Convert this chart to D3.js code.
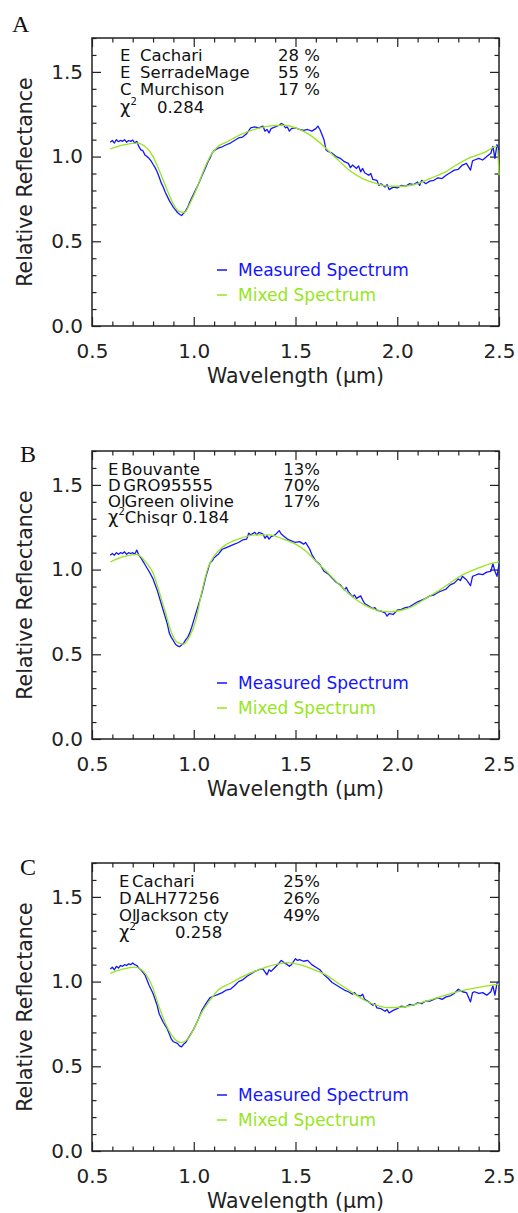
<!DOCTYPE html>
<html>
<head>
<meta charset="utf-8">
<script src="https://cdn.jsdelivr.net/npm/d3@7"></script>
<style>
  body { margin: 0; background: #fff; }
</style>
</head>
<body>
<div id="chart"></div>
<script>
// ---- data: [wavelength um, relative reflectance] ----
const measuredA = [
  [0.59,1.085],[0.60,1.095],[0.61,1.08],[0.62,1.10],[0.63,1.088],[0.64,1.096],[0.65,1.09],[0.66,1.10],
  [0.67,1.085],[0.68,1.095],[0.69,1.09],[0.70,1.098],[0.71,1.08],[0.72,1.09],[0.73,1.06],[0.74,1.04],
  [0.75,1.035],[0.76,1.01],[0.77,1.0],[0.78,0.99],[0.79,0.975],[0.80,0.955],[0.81,0.935],[0.82,0.91],
  [0.83,0.88],[0.84,0.845],[0.85,0.82],[0.86,0.79],[0.87,0.765],[0.88,0.74],[0.89,0.72],[0.90,0.70],
  [0.91,0.685],[0.92,0.67],[0.93,0.66],[0.94,0.652],[0.95,0.665],[0.96,0.68],[0.97,0.70],[0.98,0.73],
  [0.99,0.755],[1.00,0.78],[1.02,0.83],[1.04,0.885],[1.06,0.94],[1.07,0.97],[1.08,0.99],[1.09,1.02],
  [1.10,1.035],[1.12,1.05],[1.14,1.058],[1.16,1.07],[1.18,1.08],[1.20,1.095],[1.22,1.11],[1.24,1.115],
  [1.26,1.135],[1.28,1.17],[1.30,1.175],[1.32,1.17],[1.34,1.18],[1.35,1.15],[1.36,1.16],[1.37,1.14],
  [1.38,1.165],[1.40,1.175],[1.42,1.185],[1.43,1.195],[1.44,1.19],[1.45,1.17],[1.46,1.175],[1.47,1.15],
  [1.48,1.165],[1.50,1.17],[1.52,1.16],[1.54,1.155],[1.56,1.16],[1.58,1.15],[1.60,1.165],[1.61,1.18],
  [1.62,1.16],[1.63,1.13],[1.64,1.10],[1.65,1.04],[1.66,1.03],[1.68,1.02],[1.70,1.0],[1.72,0.99],
  [1.74,0.97],[1.76,0.96],[1.77,0.935],[1.78,0.95],[1.80,0.93],[1.81,0.945],[1.82,0.91],[1.83,0.93],
  [1.84,0.905],[1.86,0.89],[1.87,0.90],[1.88,0.865],[1.90,0.86],[1.91,0.83],[1.92,0.84],[1.94,0.82],
  [1.95,0.835],[1.96,0.805],[1.98,0.82],[2.00,0.815],[2.02,0.83],[2.04,0.825],[2.06,0.84],[2.08,0.835],
  [2.10,0.85],[2.11,0.83],[2.12,0.86],[2.14,0.84],[2.16,0.855],[2.18,0.86],[2.20,0.875],[2.22,0.87],
  [2.24,0.89],[2.26,0.905],[2.28,0.92],[2.30,0.925],[2.32,0.95],[2.34,0.96],[2.36,0.92],[2.37,0.975],
  [2.38,0.98],[2.40,0.99],[2.42,0.98],[2.44,1.0],[2.46,1.02],[2.47,1.06],[2.48,0.99],[2.49,1.07],[2.50,1.04]
];
const mixedA = [
  [0.59,1.045],[0.65,1.068],[0.72,1.08],[0.77,1.05],[0.80,1.0],[0.83,0.92],[0.87,0.80],[0.90,0.72],
  [0.93,0.675],[0.955,0.67],[0.98,0.72],[1.00,0.77],[1.03,0.86],[1.06,0.95],[1.09,1.02],[1.12,1.06],
  [1.16,1.085],[1.23,1.13],[1.31,1.165],[1.39,1.183],[1.44,1.185],[1.51,1.165],[1.57,1.128],[1.64,1.06],
  [1.70,0.99],[1.77,0.915],[1.83,0.87],[1.90,0.84],[1.96,0.825],[2.03,0.825],[2.10,0.84],[2.16,0.87],
  [2.23,0.905],[2.29,0.95],[2.36,0.995],[2.43,1.025],[2.49,1.06],[2.50,0.89]
];
const measuredB = [
  [0.59,1.085],[0.60,1.095],[0.61,1.085],[0.62,1.10],[0.63,1.09],[0.64,1.10],[0.65,1.095],[0.66,1.105],
  [0.67,1.09],[0.68,1.10],[0.69,1.095],[0.70,1.10],[0.71,1.09],[0.72,1.115],[0.73,1.085],[0.74,1.07],
  [0.75,1.05],[0.76,1.03],[0.78,0.99],[0.80,0.945],[0.82,0.88],[0.84,0.80],[0.86,0.72],[0.87,0.68],
  [0.88,0.625],[0.89,0.60],[0.90,0.58],[0.91,0.56],[0.92,0.55],[0.93,0.545],[0.94,0.555],[0.95,0.565],
  [0.96,0.585],[0.97,0.60],[0.98,0.625],[0.99,0.66],[1.00,0.70],[1.01,0.74],[1.02,0.78],[1.04,0.86],
  [1.05,0.91],[1.06,0.96],[1.07,1.0],[1.08,1.04],[1.09,1.05],[1.10,1.07],[1.12,1.09],[1.14,1.12],
  [1.16,1.13],[1.18,1.14],[1.20,1.15],[1.22,1.16],[1.24,1.175],[1.26,1.18],[1.27,1.215],[1.28,1.205],
  [1.30,1.22],[1.31,1.205],[1.32,1.22],[1.34,1.21],[1.35,1.185],[1.36,1.20],[1.37,1.18],[1.38,1.195],
  [1.40,1.205],[1.42,1.23],[1.43,1.21],[1.44,1.20],[1.46,1.18],[1.48,1.17],[1.50,1.16],[1.52,1.165],
  [1.54,1.15],[1.55,1.16],[1.56,1.14],[1.57,1.12],[1.58,1.09],[1.60,1.05],[1.62,1.03],[1.64,0.99],
  [1.66,0.975],[1.68,0.95],[1.70,0.925],[1.72,0.91],[1.74,0.88],[1.75,0.895],[1.76,0.87],[1.78,0.84],
  [1.79,0.85],[1.80,0.83],[1.82,0.845],[1.83,0.82],[1.84,0.80],[1.86,0.785],[1.88,0.77],[1.89,0.775],
  [1.90,0.76],[1.92,0.755],[1.94,0.745],[1.95,0.725],[1.96,0.74],[1.98,0.735],[2.00,0.76],[2.02,0.765],
  [2.04,0.775],[2.06,0.78],[2.08,0.795],[2.10,0.81],[2.12,0.82],[2.14,0.83],[2.16,0.845],[2.18,0.85],
  [2.20,0.865],[2.22,0.875],[2.24,0.885],[2.26,0.91],[2.28,0.92],[2.30,0.945],[2.31,0.935],[2.32,0.96],
  [2.34,0.94],[2.36,0.905],[2.37,0.96],[2.38,0.965],[2.40,0.975],[2.42,0.97],[2.44,0.985],[2.46,0.99],
  [2.47,1.035],[2.48,0.99],[2.49,0.96],[2.50,1.03]
];
const mixedB = [
  [0.59,1.045],[0.65,1.075],[0.72,1.09],[0.77,1.035],[0.80,0.98],[0.83,0.87],[0.86,0.75],[0.89,0.63],
  [0.92,0.57],[0.95,0.56],[0.98,0.605],[1.01,0.70],[1.04,0.87],[1.07,1.01],[1.10,1.08],[1.15,1.14],
  [1.22,1.18],[1.30,1.205],[1.37,1.205],[1.44,1.18],[1.50,1.15],[1.55,1.11],[1.60,1.05],[1.66,0.98],
  [1.72,0.905],[1.78,0.84],[1.84,0.79],[1.90,0.76],[1.96,0.75],[2.02,0.76],[2.08,0.785],[2.14,0.83],
  [2.21,0.88],[2.27,0.93],[2.33,0.975],[2.40,1.01],[2.46,1.035],[2.50,1.045]
];
const measuredC = [
  [0.59,1.075],[0.60,1.085],[0.61,1.07],[0.62,1.09],[0.63,1.08],[0.64,1.095],[0.65,1.09],[0.66,1.10],
  [0.67,1.095],[0.68,1.105],[0.69,1.10],[0.70,1.11],[0.71,1.10],[0.72,1.095],[0.73,1.08],[0.74,1.07],
  [0.76,1.04],[0.78,0.98],[0.80,0.93],[0.82,0.86],[0.83,0.81],[0.85,0.76],[0.86,0.74],[0.87,0.72],
  [0.88,0.69],[0.89,0.66],[0.90,0.645],[0.92,0.635],[0.93,0.62],[0.94,0.615],[0.95,0.63],[0.96,0.64],
  [0.97,0.66],[0.98,0.68],[1.00,0.72],[1.02,0.77],[1.04,0.83],[1.06,0.87],[1.08,0.905],[1.10,0.915],
  [1.12,0.925],[1.14,0.935],[1.16,0.95],[1.18,0.955],[1.20,0.975],[1.22,1.0],[1.24,1.01],[1.26,1.03],
  [1.28,1.045],[1.30,1.06],[1.32,1.07],[1.34,1.075],[1.36,1.04],[1.37,1.07],[1.38,1.06],[1.40,1.085],
  [1.42,1.11],[1.43,1.125],[1.44,1.115],[1.46,1.10],[1.47,1.09],[1.48,1.10],[1.50,1.135],[1.51,1.125],
  [1.52,1.13],[1.54,1.12],[1.56,1.125],[1.58,1.10],[1.60,1.085],[1.62,1.07],[1.64,1.04],[1.66,1.02],
  [1.68,0.995],[1.70,0.98],[1.72,0.965],[1.74,0.95],[1.76,0.94],[1.78,0.925],[1.79,0.935],[1.80,0.92],
  [1.82,0.915],[1.83,0.925],[1.84,0.895],[1.86,0.88],[1.88,0.86],[1.89,0.87],[1.90,0.845],[1.92,0.84],
  [1.94,0.825],[1.95,0.835],[1.96,0.815],[1.98,0.83],[2.00,0.84],[2.02,0.855],[2.04,0.85],[2.06,0.865],
  [2.08,0.86],[2.10,0.875],[2.12,0.87],[2.14,0.885],[2.16,0.885],[2.18,0.895],[2.20,0.905],[2.22,0.895],
  [2.24,0.91],[2.26,0.915],[2.28,0.93],[2.30,0.955],[2.32,0.94],[2.34,0.935],[2.36,0.88],[2.37,0.935],
  [2.38,0.94],[2.40,0.93],[2.42,0.935],[2.44,0.92],[2.46,0.94],[2.47,0.975],[2.48,0.92],[2.49,0.99],[2.50,1.0]
];
const mixedC = [
  [0.59,1.049],[0.65,1.073],[0.71,1.085],[0.76,1.05],[0.80,0.96],[0.83,0.85],[0.87,0.73],[0.90,0.67],
  [0.94,0.64],[0.97,0.66],[1.00,0.72],[1.04,0.82],[1.08,0.89],[1.12,0.95],[1.18,0.99],[1.25,1.035],
  [1.32,1.07],[1.40,1.10],[1.46,1.112],[1.52,1.10],[1.58,1.075],[1.65,1.04],[1.71,0.99],[1.78,0.935],
  [1.84,0.89],[1.90,0.86],[1.96,0.846],[2.03,0.85],[2.10,0.87],[2.17,0.895],[2.25,0.925],[2.33,0.95],
  [2.42,0.97],[2.50,0.985]
];

// annotation rows
const classesA = ["E", "E", "C"];
const namesA = ["Cachari", "SerradeMage", "Murchison"];
const percentsA = ["28 %", "55 %", "17 %"];
const chiA = "0.284";

const classesB = ["E", "D", "Ol"];
const namesB = ["Bouvante", "GRO95555", "Green olivine"];
const percentsB = ["13%", "70%", "17%"];
const chiB = "0.184";

const classesC = ["E", "D", "Ol"];
const namesC = ["Cachari", "ALH77256", "Jackson cty"];
const percentsC = ["25%", "26%", "49%"];
const chiC = "0.258";

const xMajor = [0.5, 1.0, 1.5, 2.0, 2.5];
const xMinor = d3.range(5, 26).map(d => d / 10).filter(d => !xMajor.includes(d));
const yMajor = [0.0, 0.5, 1.0, 1.5];
const yMinor = d3.range(0, 18).map(d => d / 10).filter(d => !yMajor.includes(d));

const legendLabels = ["Measured Spectrum", "Mixed Spectrum"];

// ---- drawing ----
const width = 518, height = 1213;
const left = 92, right = 499, plotH = 288;
const blue = "#1414ff", green = "#96e61c", ink = "#222";

const svg = d3.select("#chart").append("svg")
    .attr("width", width)
    .attr("height", height)
    .style("font-family", "'DejaVu Sans', sans-serif");

svg.append("rect").attr("width", width).attr("height", height).attr("fill", "#fff");

const x = d3.scaleLinear().domain([0.5, 2.5]).range([left, right]);

const panels = [
  {letter: "A", top: 38, lx: 12, ly: 32, measured: measuredA, mixed: mixedA,
   classes: classesA, names: namesA, percents: percentsA, chi: chiA, chiText: "",
   textX: 120, nameX: 140, chiX: 157, rows: [17, 34, 51, 69]},
  {letter: "B", top: 451, lx: 20, ly: 462, measured: measuredB, mixed: mixedB,
   classes: classesB, names: namesB, percents: percentsB, chi: chiB, chiText: "Chisqr",
   textX: 108, nameX: 121, chiX: 182, rows: [18, 34, 50, 66]},
  {letter: "C", top: 863, lx: 20, ly: 875, measured: measuredC, mixed: mixedC,
   classes: classesC, names: namesC, percents: percentsC, chi: chiC, chiText: "",
   textX: 119, nameX: 132, chiX: 175, rows: [18, 35, 52, 69]}
];

function styleAxis(g) {
    g.select(".domain").remove();
    g.selectAll(".tick line").attr("stroke", ink).attr("stroke-width", 1.2);
    g.selectAll(".tick text").attr("fill", ink);
    g.attr("font-family", "'DejaVu Sans', sans-serif").attr("font-size", 20);
}

panels.forEach(p => {
    const bottom = p.top + plotH;
    const y = d3.scaleLinear().domain([0, 1.7]).range([bottom, p.top]);
    const g = svg.append("g");

    // ticks, IDL style: all four sides, pointing in
    g.append("g").attr("transform", `translate(0,${bottom})`)
        .call(d3.axisBottom(x).tickValues(xMajor).tickSize(-9).tickPadding(18).tickFormat(d3.format(".1f")))
        .call(styleAxis);
    g.append("g").attr("transform", `translate(0,${bottom})`)
        .call(d3.axisBottom(x).tickValues(xMinor).tickSize(-4.5).tickFormat(""))
        .call(styleAxis);
    g.append("g").attr("transform", `translate(0,${p.top})`)
        .call(d3.axisTop(x).tickValues(xMajor).tickSize(-9).tickFormat(""))
        .call(styleAxis);
    g.append("g").attr("transform", `translate(0,${p.top})`)
        .call(d3.axisTop(x).tickValues(xMinor).tickSize(-4.5).tickFormat(""))
        .call(styleAxis);
    g.append("g").attr("transform", `translate(${left},0)`)
        .call(d3.axisLeft(y).tickValues(yMajor).tickSize(-9).tickPadding(9).tickFormat(d3.format(".1f")))
        .call(styleAxis);
    g.append("g").attr("transform", `translate(${left},0)`)
        .call(d3.axisLeft(y).tickValues(yMinor).tickSize(-4.5).tickFormat(""))
        .call(styleAxis);
    g.append("g").attr("transform", `translate(${right},0)`)
        .call(d3.axisRight(y).tickValues(yMajor).tickSize(-9).tickFormat(""))
        .call(styleAxis);
    g.append("g").attr("transform", `translate(${right},0)`)
        .call(d3.axisRight(y).tickValues(yMinor).tickSize(-4.5).tickFormat(""))
        .call(styleAxis);

    g.append("rect")
        .attr("x", left).attr("y", p.top)
        .attr("width", right - left).attr("height", plotH)
        .attr("fill", "none").attr("stroke", ink).attr("stroke-width", 1.5);

    // axis titles
    g.append("text")
        .attr("transform", `translate(25,${p.top + 144}) rotate(-90)`)
        .attr("text-anchor", "middle").attr("dy", "0.35em")
        .attr("font-size", 20.5).attr("fill", ink)
        .text("Relative Reflectance");
    g.append("text")
        .attr("x", (left + right) / 2).attr("y", bottom + 57)
        .attr("text-anchor", "middle")
        .attr("font-size", 20.5).attr("fill", ink)
        .text("Wavelength (\u03bcm)");

    // panel letter
    g.append("text")
        .attr("x", p.lx).attr("y", p.ly)
        .attr("font-family", "'Liberation Serif', 'Times New Roman', serif")
        .attr("font-size", 24).attr("fill", "#111")
        .text(p.letter);

    // spectra
    const line = d3.line().x(d => x(d[0])).y(d => y(d[1]));
    g.append("path").datum(p.measured)
        .attr("d", line).attr("fill", "none")
        .attr("stroke", blue).attr("stroke-width", 1.3).attr("stroke-linejoin", "round");
    g.append("path").datum(p.mixed)
        .attr("d", line.curve(d3.curveMonotoneX)).attr("fill", "none")
        .attr("stroke", green).attr("stroke-width", 1.3);

    // mixture annotation: class letter + sample name, then percentage
    const ann = g.append("g").attr("font-size", 16.5).attr("fill", "#111");
    p.classes.forEach((c, i) => {
        const ty = p.top + p.rows[i];
        const t = ann.append("text").attr("x", p.textX).attr("y", ty).attr("dy", "0.35em");
        const cls = t.append("tspan").text(c);
        const gap = c.length > 1 ? -1 : 2.5;
        const nx = Math.max(p.nameX, p.textX + cls.node().getComputedTextLength() + gap);
        t.append("tspan").attr("x", nx).text(p.names[i]);
        ann.append("text").attr("x", 320).attr("y", ty).attr("dy", "0.35em")
            .attr("text-anchor", "end").text(p.percents[i]);
    });
    const cy = p.top + p.rows[3];
    const chiT = ann.append("text").attr("x", p.textX).attr("y", cy).attr("dy", "0.35em");
    chiT.append("tspan").attr("font-size", 18).text("\u03c7");
    chiT.append("tspan").attr("font-size", 10).attr("dy", -7.5).text("2");
    if (p.chiText) chiT.append("tspan").attr("dy", 7.5).text(p.chiText);
    ann.append("text").attr("x", p.chiX).attr("y", cy).attr("dy", "0.35em").text(p.chi);

    // legend
    [blue, green].forEach((col, i) => {
        const ly = bottom - 56 + i * 25;
        g.append("line")
            .attr("x1", 217).attr("x2", 227).attr("y1", ly).attr("y2", ly)
            .attr("stroke", col).attr("stroke-width", 1.5);
        g.append("text")
            .attr("x", 238).attr("y", ly).attr("dy", "0.35em")
            .attr("font-size", 17).attr("fill", col)
            .text(legendLabels[i]);
    });
});
</script>
</body>
</html>
